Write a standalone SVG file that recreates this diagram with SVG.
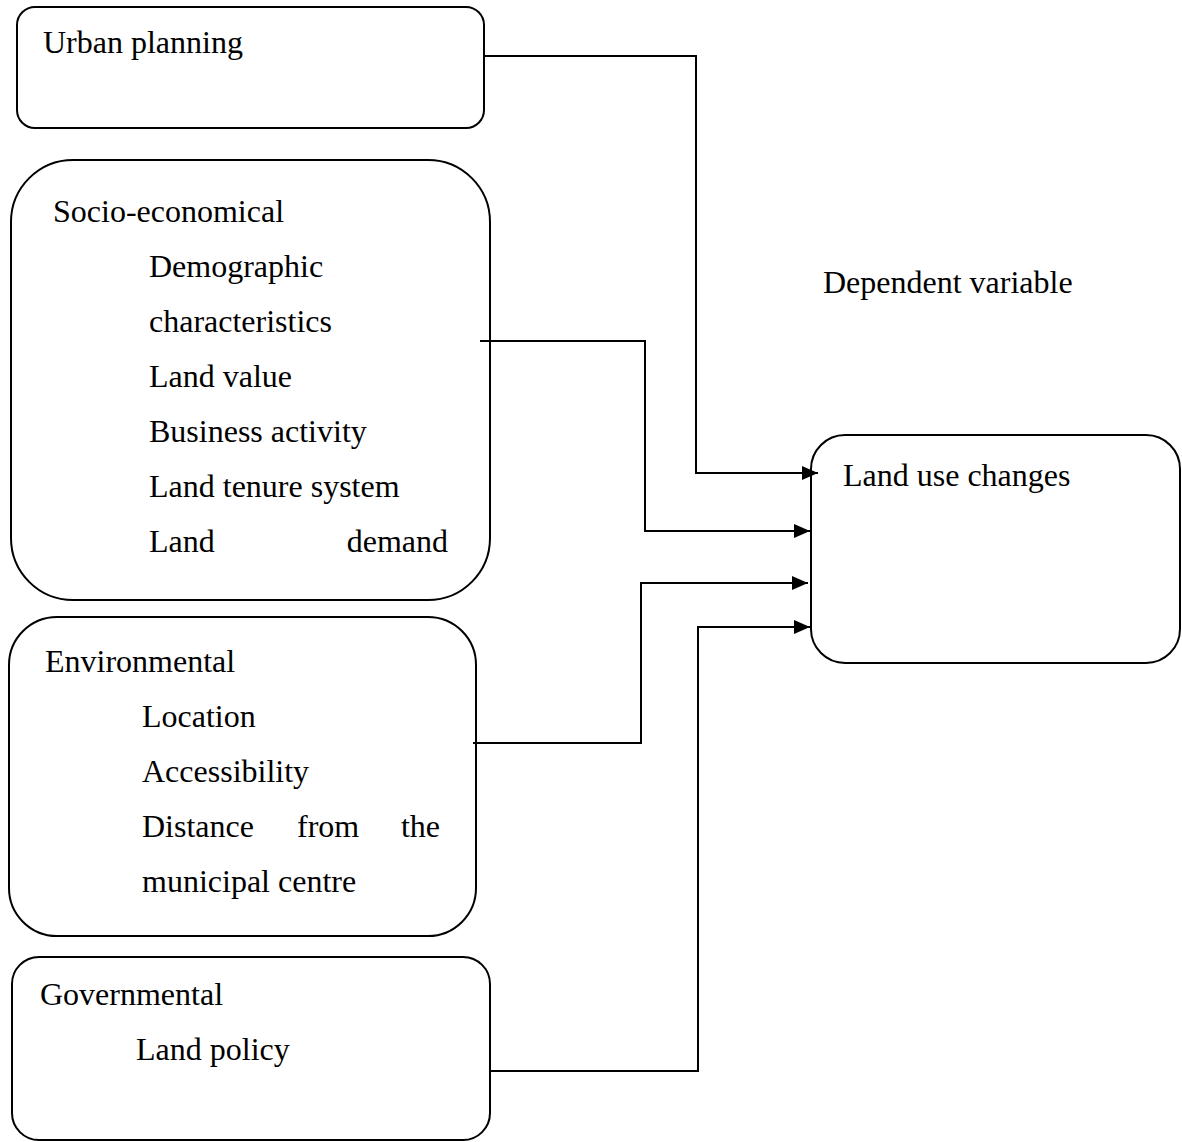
<svg xmlns="http://www.w3.org/2000/svg" width="1182" height="1142" viewBox="0 0 1182 1142">
<style>
.box{fill:#fff;stroke:#000;stroke-width:2}
.t{font-family:"Liberation Serif","Times New Roman",serif;font-size:32px;fill:#000}
.c{fill:none;stroke:#000;stroke-width:2}
</style>
<defs>
<marker id="ah" markerUnits="userSpaceOnUse" markerWidth="16" markerHeight="14" refX="16" refY="7" orient="auto">
<path d="M0,0 L16,7 L0,14 z" fill="#000"/>
</marker>
</defs>
<rect width="1182" height="1142" fill="#fff"/>
<g id="urban-planning">
<rect class="box" x="17" y="7" width="467" height="121" rx="18"/>
<text class="t" x="43" y="53">Urban planning</text>
</g>
<g id="socio-economical">
<rect class="box" x="11" y="160" width="479" height="440" rx="62"/>
<text class="t" x="53" y="222">Socio-economical</text>
<text class="t" x="149" y="277">Demographic</text>
<text class="t" x="149" y="332">characteristics</text>
<text class="t" x="149" y="387">Land value</text>
<text class="t" x="149" y="442">Business activity</text>
<text class="t" x="149" y="497">Land tenure system</text>
<text class="t" x="149" y="552">Land</text>
<text class="t" x="448" y="552" text-anchor="end">demand</text>
</g>
<g id="environmental">
<rect class="box" x="9" y="617" width="467" height="319" rx="48"/>
<text class="t" x="45" y="672">Environmental</text>
<text class="t" x="142" y="727">Location</text>
<text class="t" x="142" y="782">Accessibility</text>
<text class="t" x="142" y="837">Distance</text>
<text class="t" x="297" y="837">from</text>
<text class="t" x="440" y="837" text-anchor="end">the</text>
<text class="t" x="142" y="892">municipal centre</text>
</g>
<g id="governmental">
<rect class="box" x="12" y="957" width="478" height="183" rx="27"/>
<text class="t" x="40" y="1005">Governmental</text>
<text class="t" x="136" y="1060">Land policy</text>
</g>
<g id="dependent-label">
<text class="t" x="823" y="293">Dependent variable</text>
</g>
<g id="land-use-changes">
<rect class="box" x="811" y="435" width="369" height="228" rx="34"/>
<text class="t" x="843" y="486">Land use changes</text>
</g>
<g id="connectors">
<path class="c" d="M484 56 H696 V473 H818" marker-end="url(#ah)"/>
<path class="c" d="M480 341 H645 V531 H810" marker-end="url(#ah)"/>
<path class="c" d="M473 743 H641 V583 H808" marker-end="url(#ah)"/>
<path class="c" d="M490 1071 H698 V627 H810" marker-end="url(#ah)"/>
</g>
</svg>
